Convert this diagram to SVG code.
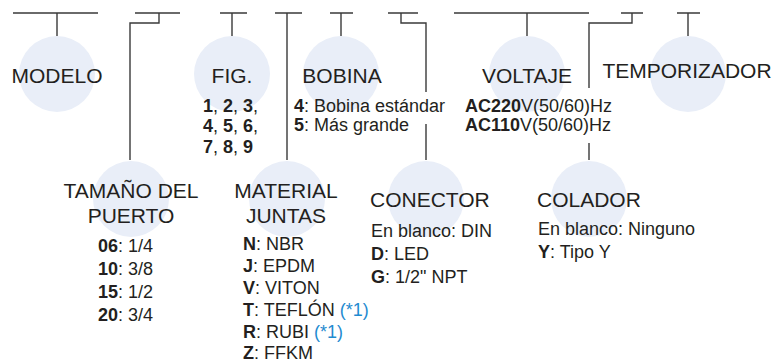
<svg xmlns="http://www.w3.org/2000/svg" width="773" height="363" viewBox="0 0 773 363">
<style>
.bg{fill:#ffffff}
.c{fill:#e9eef8}
.ln{fill:none;stroke:#3a3a3a;stroke-width:1.4}
.t{font-family:"Liberation Sans",Arial,sans-serif;font-size:21px;fill:#231f20}
.s{font-family:"Liberation Sans",Arial,sans-serif;font-size:18px;fill:#231f20}
.b{font-weight:bold}
.blue{fill:#1f8bd0}
.m{text-anchor:middle}
</style>
<rect class="bg" x="0" y="0" width="773" height="363"/>
<g id="connectors">
<path class="ln" d="M13,13H98M57,13V36"/>
<path class="ln" d="M135,13H180M159,13V23H130V160"/>
<path class="ln" d="M220,13H247M232,13V36"/>
<path class="ln" d="M275,13H302M287,13V160"/>
<path class="ln" d="M330,13H353M341,13V36"/>
<path class="ln" d="M388,13H418M401,13V23H426V92M426,124V160"/>
<path class="ln" d="M454,13H589M527,13V36"/>
<path class="ln" d="M621,13H643M632,13V23H589V88M589,143V160"/>
<path class="ln" d="M677,13H700M688,13V36"/>
</g>
<g id="modelo">
<circle class="c" cx="57" cy="74" r="38"/>
<text class="t m" x="57" y="83">MODELO</text>
</g>
<g id="fig">
<circle class="c" cx="232" cy="74" r="38"/>
<text class="t m" x="232" y="83">FIG.</text>
<text class="s" x="203" y="112"><tspan class="b">1</tspan>, <tspan class="b">2</tspan>, <tspan class="b">3</tspan>,</text>
<text class="s" x="203" y="132"><tspan class="b">4</tspan>, <tspan class="b">5</tspan>, <tspan class="b">6</tspan>,</text>
<text class="s" x="203" y="153"><tspan class="b">7</tspan>, <tspan class="b">8</tspan>, <tspan class="b">9</tspan></text>
</g>
<g id="bobina">
<circle class="c" cx="341" cy="74" r="38"/>
<text class="t m" x="342" y="83">BOBINA</text>
<text class="s" x="294" y="112"><tspan class="b">4</tspan>: Bobina estándar</text>
<text class="s" x="294" y="131"><tspan class="b">5</tspan>: Más grande</text>
</g>
<g id="voltaje">
<circle class="c" cx="527" cy="74" r="38"/>
<text class="t m" x="527" y="83">VOLTAJE</text>
<text class="s" x="465" y="112"><tspan class="b">AC220</tspan>V(50/60)Hz</text>
<text class="s" x="465" y="131"><tspan class="b">AC110</tspan>V(50/60)Hz</text>
</g>
<g id="temporizador">
<circle class="c" cx="688" cy="74" r="38"/>
<text class="t m" x="687" y="78">TEMPORIZADOR</text>
</g>
<g id="tamano">
<circle class="c" cx="131" cy="199" r="38"/>
<text class="t m" x="131" y="198">TAMAÑO DEL</text>
<text class="t m" x="131" y="223">PUERTO</text>
<text class="s" x="98" y="252"><tspan class="b">06</tspan>: 1/4</text>
<text class="s" x="98" y="275"><tspan class="b">10</tspan>: 3/8</text>
<text class="s" x="98" y="298"><tspan class="b">15</tspan>: 1/2</text>
<text class="s" x="98" y="321"><tspan class="b">20</tspan>: 3/4</text>
</g>
<g id="material">
<circle class="c" cx="287" cy="199" r="38"/>
<text class="t m" x="286" y="198">MATERIAL</text>
<text class="t m" x="286" y="223">JUNTAS</text>
<text class="s" x="243" y="250"><tspan class="b">N</tspan>: NBR</text>
<text class="s" x="243" y="272"><tspan class="b">J</tspan>: EPDM</text>
<text class="s" x="243" y="294"><tspan class="b">V</tspan>: VITON</text>
<text class="s" x="243" y="316"><tspan class="b">T</tspan>: TEFLÓN <tspan class="blue">(*1)</tspan></text>
<text class="s" x="243" y="338"><tspan class="b">R</tspan>: RUBI <tspan class="blue">(*1)</tspan></text>
<text class="s" x="243" y="359"><tspan class="b">Z</tspan>: FFKM</text>
</g>
<g id="conector">
<circle class="c" cx="426" cy="199" r="38"/>
<text class="t" x="370" y="207">CONECTOR</text>
<text class="s" x="371" y="237">En blanco: DIN</text>
<text class="s" x="371" y="260"><tspan class="b">D</tspan>: LED</text>
<text class="s" x="371" y="283"><tspan class="b">G</tspan>: 1/2" NPT</text>
</g>
<g id="colador">
<circle class="c" cx="589" cy="199" r="38"/>
<text class="t" x="537" y="207">COLADOR</text>
<text class="s" x="538" y="235">En blanco: Ninguno</text>
<text class="s" x="538" y="258"><tspan class="b">Y</tspan>: Tipo Y</text>
</g>
</svg>
